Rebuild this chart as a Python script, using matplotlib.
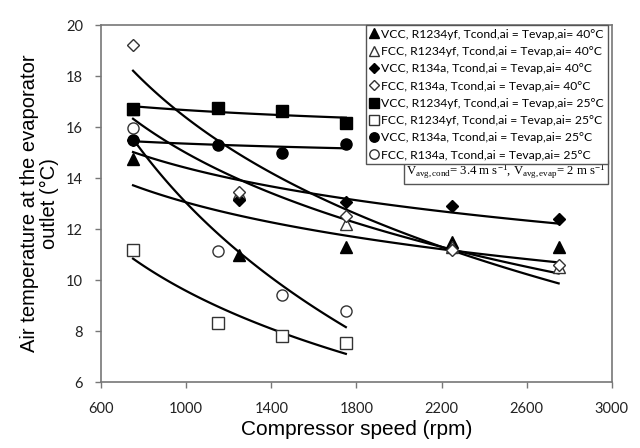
import matplotlib
matplotlib.use("Agg")

import matplotlib.pyplot as plt
import numpy as np

# compressor speed (rpm) and evaporator outlet air temperature (degC)
rpm_40 = [750, 1250, 1750, 2250, 2750]
rpm_25 = [750, 1150, 1450, 1750]

vcc_r1234yf_40 = [14.75, 11.0, 11.3, 11.5, 11.3]
fcc_r1234yf_40 = [16.7, 13.4, 12.2, 11.3, 10.5]
vcc_r134a_40 = [15.5, 13.15, 13.05, 12.9, 12.4]
fcc_r134a_40 = [19.2, 13.45, 12.5, 11.2, 10.6]
vcc_r1234yf_25 = [16.7, 16.75, 16.65, 16.15]
fcc_r1234yf_25 = [11.2, 8.3, 7.8, 7.55]
vcc_r134a_25 = [15.5, 15.3, 15.0, 15.35]
fcc_r134a_25 = [15.95, 11.15, 9.4, 8.8]

labels = [
    "VCC, R1234yf, Tcond,ai = Tevap,ai= 40°C",
    "FCC, R1234yf, Tcond,ai = Tevap,ai= 40°C",
    "VCC, R134a, Tcond,ai = Tevap,ai= 40°C",
    "FCC, R134a, Tcond,ai = Tevap,ai= 40°C",
    "VCC, R1234yf, Tcond,ai = Tevap,ai= 25°C",
    "FCC, R1234yf, Tcond,ai = Tevap,ai= 25°C",
    "VCC, R134a, Tcond,ai = Tevap,ai= 25°C",
    "FCC, R134a, Tcond,ai = Tevap,ai= 25°C",
]

series = [
    (rpm_40, vcc_r1234yf_40, "^", True),
    (rpm_40, fcc_r1234yf_40, "^", False),
    (rpm_40, vcc_r134a_40, "D", True),
    (rpm_40, fcc_r134a_40, "D", False),
    (rpm_25, vcc_r1234yf_25, "s", True),
    (rpm_25, fcc_r1234yf_25, "s", False),
    (rpm_25, vcc_r134a_25, "o", True),
    (rpm_25, fcc_r134a_25, "o", False),
]

plt.rcParams["mathtext.fontset"] = "custom"
plt.rcParams["mathtext.rm"] = "Liberation Serif"
plt.rcParams["mathtext.it"] = "Liberation Serif:italic"

fig = plt.figure(figsize=(6.4, 4.48), dpi=100)
ax = fig.add_axes([0.158, 0.147, 0.798, 0.797])

# logarithmic trend lines (y = a + b ln x)
for x, y, m, filled in series:
    x = np.array(x, dtype=float)
    b, a = np.polyfit(np.log(x), y, 1)
    xs = np.linspace(x.min(), x.max(), 100)
    ax.plot(xs, a + b * np.log(xs), color="black", lw=1.6, zorder=2)

for (x, y, m, filled), lab in zip(series, labels):
    ms = 6.5 if m == "D" else 8
    ax.plot(x, y, ls="none", marker=m, ms=ms,
            mfc="black" if filled else "white",
            mec="black" if filled else "#333333", mew=1.0,
            label=lab, zorder=3)

ax.set_xlim(600, 3000)
ax.set_ylim(6, 20)
ax.set_xticks(np.arange(600, 3001, 400))
ax.set_yticks(np.arange(6, 21, 2))
ax.tick_params(direction="out", length=4, width=1, color="#777777",
               labelsize=10.5, labelcolor="#222222", pad=9)
ax.tick_params(axis="x", pad=10)
for lab in ax.get_xticklabels() + ax.get_yticklabels():
    lab.set_family("Lato")
for sp in ax.spines.values():
    sp.set_color("#777777")
    sp.set_linewidth(1.2)

ax.set_xlabel("Compressor speed (rpm)", fontsize=15, family="Liberation Sans",
              labelpad=3)
ax.set_ylabel("Air temperature at the evaporator\noutlet (°C)", fontsize=14.5,
              family="Liberation Sans", labelpad=5, linespacing=1.05)

leg = ax.legend(loc="upper right", bbox_to_anchor=(0.992, 1.0), borderaxespad=0,
                prop={"family": "Lato", "size": 8.7}, handlelength=0.7,
                handletextpad=0.3, borderpad=0.3, labelspacing=0.52,
                fancybox=False, framealpha=1, edgecolor="#555555", markerscale=0.85)
leg.get_frame().set_linewidth(1.0)

ax.text(0.988, 0.614,
        r"V$_{\mathrm{avg,cond}}$= 3.4 m s$^{-1}$, V$_{\mathrm{avg,evap}}$= 2 m s$^{-1}$",
        transform=ax.transAxes, ha="right", va="top", fontsize=9.2,
        family="Liberation Serif",
        bbox=dict(boxstyle="square,pad=0.2", fc="white", ec="#555555", lw=1.0),
        zorder=5)

fig.savefig("out.png", dpi=100)
